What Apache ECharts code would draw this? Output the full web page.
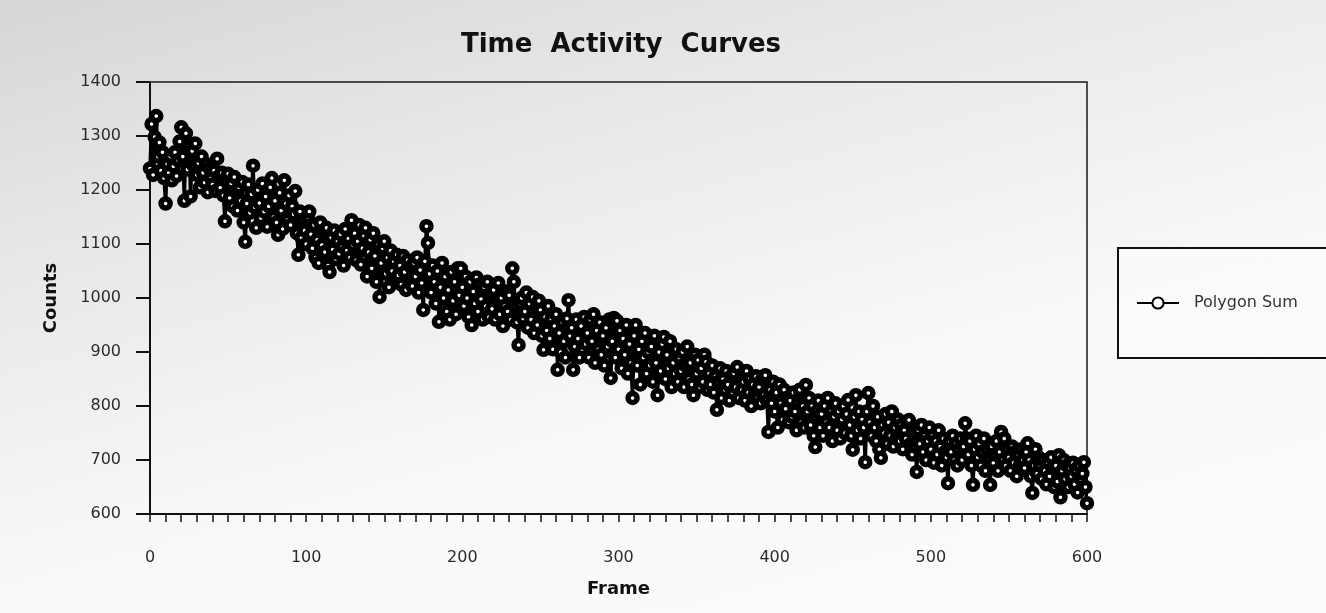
<!DOCTYPE html>
<html>
<head>
<meta charset="utf-8">
<script src="https://cdn.jsdelivr.net/npm/echarts@6/dist/echarts.min.js"></script>
<style>
html,body{margin:0;padding:0;width:1326px;height:613px;overflow:hidden;
background:linear-gradient(165deg,#d6d6d6 0%,#e8e8e8 28%,#f8f8f8 60%,#fcfcfc 100%);}
#chart{width:1326px;height:613px;}
</style>
</head>
<body>
<div id="chart"></div>
<script>
// Counts per frame (frame = index)
const counts000 = [
1240,1322,1228,1298,1337,1262,1288,1236,1270,1222,
1175,1248,1232,1262,1218,1244,1270,1226,1255,1290,
1316,1262,1180,1305,1238,1280,1188,1272,1245,1286,
1228,1250,1205,1262,1232,1214,1248,1196,1240,1222,
1210,1236,1198,1258,1225,1204,1232,1190,1142,1216,
1230,1185,1212,1170,1224,1198,1162,1205,1180,1215,
1140,1104,1175,1210,1158,1192,1245,1168,1130,1200,
1176,1148,1212,1160,1188,1132,1170,1205,1222,1150,
1180,1140,1117,1195,1162,1128,1218,1175,1145,1190,
1135,1170,1155,1198,1120,1080,1160,1112,1145,1125];
const counts100 = [
1100,1150,1160,1118,1092,1135,1075,1108,1065,1140,
1098,1122,1085,1130,1060,1048,1112,1090,1125,1072,
1105,1082,1118,1095,1060,1128,1088,1110,1075,1144,
1098,1120,1070,1105,1135,1062,1092,1115,1130,1040,
1085,1108,1055,1120,1078,1030,1098,1002,1065,1092,
1105,1045,1075,1020,1088,1050,1068,1035,1080,1042,
1060,1025,1078,1048,1015,1070,1030,1058,1022,1065,
1040,1075,1010,1052,1028,978,1068,1133,1102,1045,
1010,1060,1030,990,1050,956,1020,1065,1000,1040,
975,1015,960,1048,995,1030,970,1055,1005,1055];
const counts200 = [
1020,985,1040,1000,965,1030,950,1012,990,1038,
975,1025,998,960,1020,985,1030,965,1008,980,
1015,960,995,1028,970,1000,948,985,1012,975,
1005,960,1055,1030,985,955,913,990,1000,962,
975,1010,945,990,960,1002,935,980,950,995,
978,930,904,965,940,985,925,960,905,948,
970,867,935,900,955,920,890,962,996,930,
945,867,910,960,925,890,948,905,965,915,
935,890,960,920,970,880,940,905,955,895,
930,875,945,910,960,852,920,963,890,958];
const counts300 = [
905,940,870,925,895,950,860,915,880,815,
930,950,875,905,840,920,890,935,860,900,
875,910,845,930,880,820,900,865,915,928,
850,895,870,920,835,880,860,905,845,890,
865,900,835,875,910,850,880,840,820,895,
860,885,835,870,845,895,882,830,860,840,
875,825,855,793,845,870,815,850,830,865,
840,810,855,825,860,835,872,815,850,830,
845,810,865,825,850,800,840,820,855,815,
835,805,850,820,857,810,752,830,805,845];
const counts400 = [
790,825,760,840,805,775,830,795,815,770,
810,780,825,790,755,805,830,770,800,760,
839,790,815,765,800,745,724,790,810,760,
785,745,800,770,815,760,790,735,780,805,
755,790,740,775,800,750,785,811,765,745,
719,780,820,755,790,740,775,760,696,790,
824,770,745,800,760,735,780,720,704,765,
750,785,730,770,745,790,725,760,740,775,
735,765,720,755,740,770,774,730,710,750,
725,678,755,730,765,715,745,700,735,760];
const counts500 = [
720,745,695,735,710,755,725,690,740,715,
705,657,735,715,745,700,730,690,720,740,
700,725,768,740,710,735,690,654,720,745,
705,730,690,715,740,680,720,700,654,725,
695,710,735,680,715,752,700,740,690,720,
705,680,725,695,715,670,710,690,720,700,
685,715,731,700,670,639,690,720,675,705,
690,665,700,680,655,695,670,705,685,650,
690,660,709,631,680,700,665,690,650,685,
670,695,655,680,640,690,665,675,696,650,
620];

const xTicks = [0,100,200,300,400,500,600];
const yTicks = [600,700,800,900,1000,1100,1200,1300,1400];
const seriesName = 'Polygon Sum';

const counts = [].concat(counts000,counts100,counts200,counts300,counts400,counts500);
const data = counts.map((v,i)=>[i,v]);

const chart = echarts.init(document.getElementById('chart'), null, {renderer:'canvas'});
const txt = '#2b2b2b';
chart.setOption({
  animation:false,
  backgroundColor:'transparent',
  title:{
    text:'Time  Activity  Curves',
    left:616, top:27, textAlign:'center',
    textStyle:{fontFamily:'DejaVu Sans',fontWeight:'bold',fontSize:26,color:'#111'}
  },
  legend:{
    left:1118, top:248,
    orient:'vertical',
    data:[seriesName],
    itemWidth:42, itemHeight:14,
    padding:[47,40,47,18],
    borderColor:'#111', borderWidth:2,
    backgroundColor:'rgba(255,255,255,0.35)',
    textStyle:{fontFamily:'DejaVu Sans',fontSize:16,color:'#333',padding:[0,0,0,10]}
  },
  grid:{
    left:150, right:239, top:82, bottom:99,
    show:true, borderColor:'#1a1a1a', borderWidth:1.5, backgroundColor:'transparent'
  },
  xAxis:{
    type:'value', min:xTicks[0], max:xTicks[xTicks.length-1], interval:100,
    name:'Frame', nameLocation:'middle', nameGap:66,
    nameTextStyle:{fontFamily:'DejaVu Sans',fontWeight:'bold',fontSize:18,color:'#111'},
    axisLine:{show:true,lineStyle:{color:'#111',width:2}},
    axisTick:{show:true,length:8,lineStyle:{color:'#111',width:1.5}},
    minorTick:{show:true,splitNumber:10,length:8,lineStyle:{color:'#111',width:1.5}},
    splitLine:{show:false},
    axisLabel:{margin:36,fontFamily:'DejaVu Sans',fontSize:16,color:txt,formatter:v=>String(v)}
  },
  yAxis:{
    type:'value', min:yTicks[0], max:yTicks[yTicks.length-1], interval:100,
    name:'Counts', nameLocation:'middle', nameGap:90, nameRotate:90,
    nameTextStyle:{fontFamily:'DejaVu Sans',fontWeight:'bold',fontSize:18,color:'#111'},
    axisLine:{show:true,lineStyle:{color:'#111',width:2}},
    axisTick:{show:true,length:14,lineStyle:{color:'#111',width:2}},
    splitLine:{show:false},
    axisLabel:{margin:29,fontFamily:'DejaVu Sans',fontSize:16,color:txt,formatter:v=>String(v)}
  },
  series:[{
    name:seriesName,
    type:'line',
    data:data,
    symbol:'circle',
    symbolSize:9,
    showSymbol:true,
    showAllSymbol:true,
    lineStyle:{color:'#000',width:3.5},
    itemStyle:{color:'#fff',borderColor:'#000',borderWidth:5.5},
    emphasis:{disabled:true}
  }]
});
</script>
</body>
</html>
